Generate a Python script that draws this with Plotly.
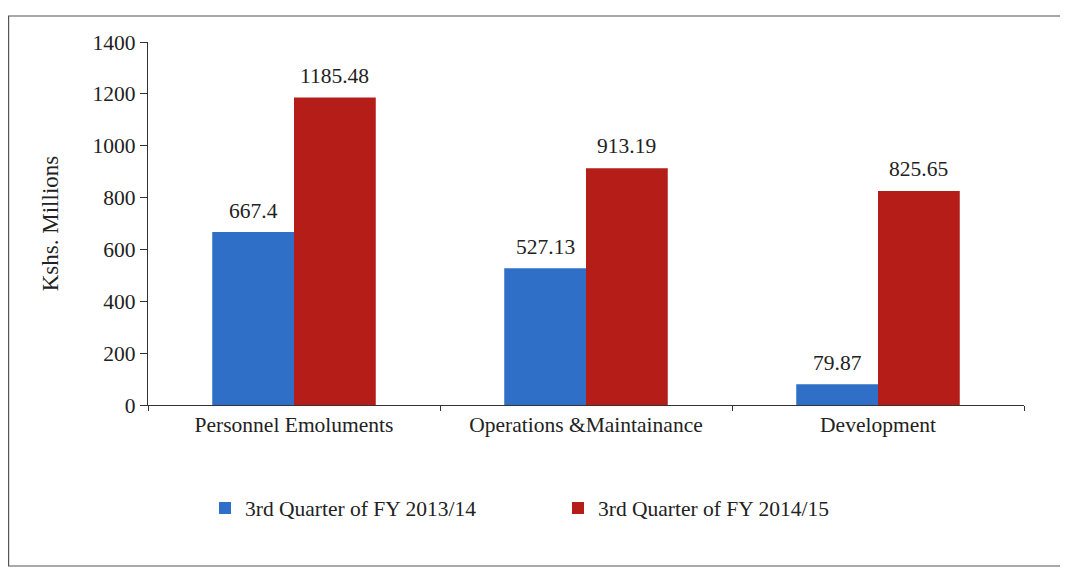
import plotly.graph_objects as go

categories = ["Personnel Emoluments", "Operations &Maintainance", "Development"]
series_names = ["3rd Quarter of FY 2013/14", "3rd Quarter of FY 2014/15"]
values_1314 = [667.4, 527.13, 79.87]
values_1415 = [1185.48, 913.19, 825.65]
label_1314 = ["667.4", "527.13", "79.87"]
label_1415 = ["1185.48", "913.19", "825.65"]
y_ticks = [0, 200, 400, 600, 800, 1000, 1200, 1400]

BLUE = "#2f6fc7"
RED = "#b51d18"
FONT = "Liberation Serif"
FS = 21.5
TXT = "#222"
# the page body adds an 8px margin, so work in figure coordinates offset by 8px
OFF = 8
W, H = 1068 - OFF, 570 - OFF
ML, MT = 148 - OFF, 42 - OFF
MR, MB = 44, 165
PW, PH = W - ML - MR, H - MT - MB

fig = go.Figure()
fig.add_trace(go.Bar(x=categories, y=values_1314, name=series_names[0], marker=dict(color=BLUE, line=dict(width=0))))
fig.add_trace(go.Bar(x=categories, y=values_1415, name=series_names[1], marker=dict(color=RED, line=dict(width=0))))

bargap = 0.44
cat_px = PW / len(categories)
off = (1 - bargap) / 4 * cat_px
annotations = []
for c, v, t in zip(categories, values_1314, label_1314):
    annotations.append(dict(x=c, y=v, text=t, showarrow=False, xshift=-off, yshift=21,
                            font=dict(family=FONT, size=FS, color=TXT)))
for c, v, t in zip(categories, values_1415, label_1415):
    annotations.append(dict(x=c, y=v, text=t, showarrow=False, xshift=off, yshift=22,
                            font=dict(family=FONT, size=FS, color=TXT)))

def px_x(px):
    return (px - OFF - ML) / PW

def px_y(py):
    return (H - MB - (py - OFF)) / PH

shapes = [dict(type="rect", xref="paper", yref="paper",
               x0=px_x(8.6), x1=px_x(1062), y0=px_y(566), y1=px_y(16),
               line=dict(color="#555", width=1.2), fillcolor="rgba(0,0,0,0)", layer="below")]

fig.update_layout(
    width=W, height=H,
    margin=dict(l=ML, r=MR, t=MT, b=MB, autoexpand=False),
    paper_bgcolor="white", plot_bgcolor="white",
    barmode="group", bargap=bargap, bargroupgap=0,
    font=dict(family=FONT, size=FS, color=TXT),
    showlegend=True,
    legend=dict(orientation="h", x=px_x(205), xanchor="left", y=px_y(508), yanchor="middle",
                font=dict(family=FONT, size=FS, color=TXT),
                entrywidth=308, entrywidthmode="pixels", itemwidth=30,
                bgcolor="rgba(0,0,0,0)", traceorder="normal"),
    annotations=annotations,
    shapes=shapes,
)
fig.update_xaxes(showline=True, linecolor="#333", linewidth=1.2, ticks="outside", tickson="boundaries",
                 ticklen=5, tickcolor="#333", showgrid=False, tickfont=dict(family=FONT, size=FS, color=TXT))
fig.update_yaxes(range=[0, 1400], tickvals=y_ticks, ticks="outside", ticklen=7, tickcolor="#333",
                 showline=True, linecolor="#333", linewidth=1.2, showgrid=False, zeroline=False,
                 tickfont=dict(family=FONT, size=FS, color=TXT),
                 title=dict(text="Kshs. Millions", font=dict(family=FONT, size=23, color=TXT), standoff=27))

fig.write_html("out.html")
